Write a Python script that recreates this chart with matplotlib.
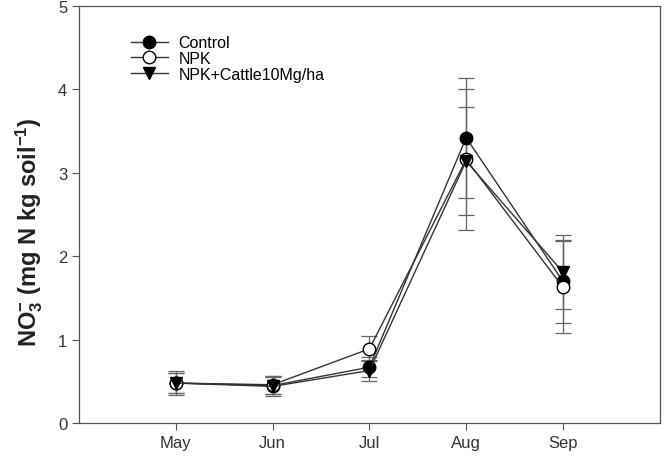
import numpy as np
import matplotlib
matplotlib.use("Agg")
import matplotlib.pyplot as plt
from matplotlib.lines import Line2D

plt.rcParams['font.family'] = ['Liberation Sans', 'DejaVu Sans']
plt.rcParams['mathtext.fontset'] = 'custom'
plt.rcParams['mathtext.rm'] = 'Liberation Sans'
plt.rcParams['mathtext.bf'] = 'Liberation Sans:bold'

months = ['May', 'Jun', 'Jul', 'Aug', 'Sep']

control = [0.48, 0.45, 0.67, 3.42, 1.70]
control_err = [0.12, 0.10, 0.12, 0.72, 0.50]

npk = [0.48, 0.46, 0.89, 3.16, 1.63]
npk_err = [0.12, 0.11, 0.15, 0.85, 0.55]

cattle = [0.48, 0.44, 0.63, 3.14, 1.81]
cattle_err = [0.14, 0.12, 0.13, 0.65, 0.44]

x = np.arange(1, len(months) + 1)

fig = plt.figure(figsize=(6.65, 4.6), dpi=100)
ax = fig.add_axes([0.119, 0.078, 0.873, 0.907])

ebar = dict(ecolor='#666666', elinewidth=0.9, capsize=6, capthick=0.9)
ax.errorbar(x, control, yerr=control_err, color='#333333', lw=1.0,
            marker='o', ms=9, mfc='black', mec='black', **ebar)
ax.errorbar(x, npk, yerr=npk_err, color='#333333', lw=1.0,
            marker='o', ms=9, mfc='white', mec='black', **ebar)
ax.errorbar(x, cattle, yerr=cattle_err, color='#333333', lw=1.0,
            marker='v', ms=9, mfc='black', mec='black', **ebar)

handles = [
    Line2D([], [], color='#333333', lw=1.0, marker='o', ms=9, mfc='black', mec='black'),
    Line2D([], [], color='#333333', lw=1.0, marker='o', ms=9, mfc='white', mec='black'),
    Line2D([], [], color='#333333', lw=1.0, marker='v', ms=9, mfc='black', mec='black'),
]
labels = ['Control', 'NPK', 'NPK+Cattle10Mg/ha']

ax.set_xlim(0, 6)
ax.set_ylim(0, 5)
ax.set_xticks(x)
ax.set_xticklabels(months)
ax.set_yticks([0, 1, 2, 3, 4, 5])
ax.tick_params(direction='out', length=5, width=0.8, colors='#555555',
               labelcolor='#333333', labelsize=12)
for s in ax.spines.values():
    s.set_color('#555555')
    s.set_linewidth(0.9)

ax.set_ylabel(r'$\mathbf{NO_3^{-}}$ (mg N kg soil$\mathbf{^{-1}}$)',
              fontsize=17, fontweight='bold', color='#222222')
ax.yaxis.set_label_coords(-0.058, 0.46)

ax.legend(handles, labels, loc='upper left', bbox_to_anchor=(0.078, 0.945),
          frameon=False, fontsize=11.5, handlelength=2.3, labelspacing=0.05,
          handletextpad=0.7, borderaxespad=0)

fig.savefig('out.png', dpi=100)
